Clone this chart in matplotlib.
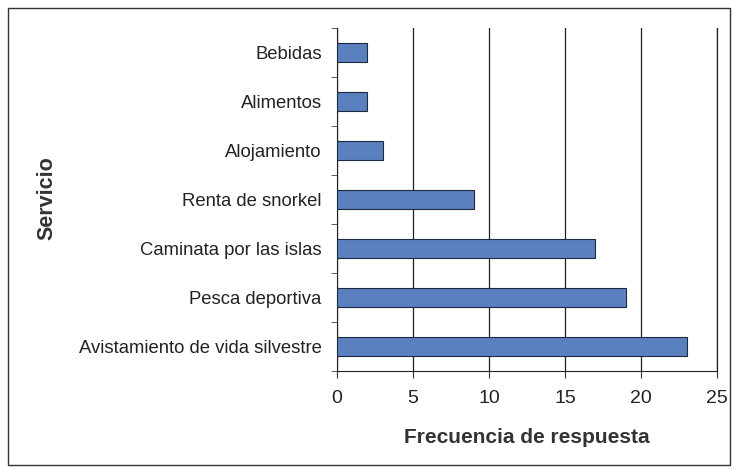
import matplotlib.pyplot as plt
from matplotlib.patches import Rectangle

# data
servicios = ["Avistamiento de vida silvestre", "Pesca deportiva", "Caminata por las islas",
             "Renta de snorkel", "Alojamiento", "Alimentos", "Bebidas"]
frecuencia = [23, 19, 17, 9, 3, 2, 2]
x_ticks = [0, 5, 10, 15, 20, 25]

plt.rcParams['font.family'] = ['Liberation Sans', 'DejaVu Sans']

fig = plt.figure(figsize=(7.36, 4.7), dpi=100)
ax = fig.add_axes([337/736, 1 - 371/470, 380/736, 343/470])

y = range(len(servicios))
ax.barh(y, frecuencia, height=0.4, color='#5a80c0', edgecolor='#1f2a40', linewidth=0.8, zorder=3)

ax.set_xlim(0, 25)
ax.set_ylim(-0.5, len(servicios) - 0.5)
ax.set_xticks(x_ticks)
ax.set_xticklabels([str(t) for t in x_ticks], fontsize=14, color='#222222')
ax.set_yticks(y)
ax.set_yticklabels(servicios, fontsize=13.3, color='#222222')
ax.tick_params(axis='y', length=0, pad=11)
ax.tick_params(axis='x', length=5, direction='out', pad=9, color='#333333')
# category boundary ticks
ax.set_yticks([i - 0.5 for i in range(len(servicios) + 1)], minor=True)
ax.tick_params(axis='y', which='minor', length=4, direction='out', color='#444444')

ax.xaxis.grid(True, color='#222222', linewidth=0.9, zorder=0)
ax.spines['top'].set_visible(False)
for s in ['left', 'bottom', 'right']:
    ax.spines[s].set_color('#222222')
ax.spines['right'].set_linewidth(0.9)

ax.set_xlabel("Frecuencia de respuesta", fontsize=15, fontweight='bold',
              color='#333333', labelpad=15)
fig.text(47/736, 1 - 198/470, "Servicio", rotation=90, fontsize=15.5, fontweight='bold',
         color='#333333', ha='center', va='center')

# outer frame around the chart
fig.patches.append(Rectangle((8/736, 1 - 465/470), 722/736, 457/470, transform=fig.transFigure,
                             fill=False, edgecolor='#333333', linewidth=1.0))

fig.savefig("out.png", dpi=100)
